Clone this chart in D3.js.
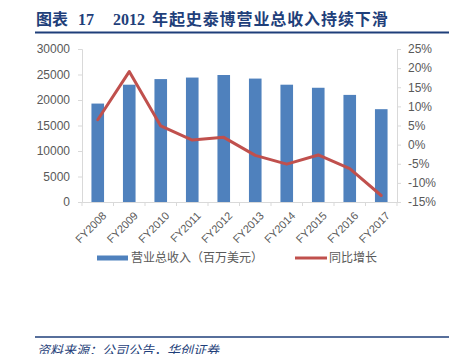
<!DOCTYPE html>
<html lang="zh">
<head>
<meta charset="UTF-8">
<title>史泰博营业总收入</title>
<script src="https://d3js.org/d3.v7.min.js"></script>
<style>
  body { margin: 0; background: #fff; }
  svg { display: block; }
</style>
</head>
<body>
<div id="chart"></div>
<script>
// data
var years = ['FY2008', 'FY2009', 'FY2010', 'FY2011', 'FY2012', 'FY2013', 'FY2014', 'FY2015', 'FY2016', 'FY2017'];
var revenue = [19300, 23000, 24100, 24400, 24900, 24200, 23000, 22400, 21000, 18200];
var growth = [6.5, 19.1, 4.9, 1.2, 1.9, -2.8, -5.1, -2.7, -6.3, -13.3];
var leftTicks = [0, 5000, 10000, 15000, 20000, 25000, 30000];
var rightTicks = [-15, -10, -5, 0, 5, 10, 15, 20, 25];
var seriesNames = ['营业总收入（百万美元）', '同比增长'];

var W = 453, H = 354;
var x0 = 82, x1 = 397, yTop = 49, yBot = 202;
var grey = '#595959', axisCol = '#d9d9d9';
var navy = '#1f3f7a';

var svg = d3.select('#chart').append('svg').attr('width', W).attr('height', H);

// title, in pieces to match the spacing
var titleParts = [
  { t: '图表', x: 36 },
  { t: '17', x: 78 },
  { t: '2012', x: 113 },
  { t: '年起史泰博营业总收入持续下滑', x: 152 }
];
svg.append('g').selectAll('text').data(titleParts).enter().append('text')
  .attr('x', function(d) { return d.x; }).attr('y', 25)
  .attr('fill', navy)
  .style('font-family', '"Liberation Serif", "Noto Sans CJK SC", serif')
  .style('font-weight', 'bold')
  .style('font-size', '16px')
  .style('letter-spacing', function(d) { return d.t.length > 4 ? '0.9px' : '0px'; })
  .text(function(d) { return d.t; });
svg.append('line').attr('x1', 35).attr('x2', 449).attr('y1', 32.5).attr('y2', 32.5)
  .attr('stroke', navy).attr('stroke-width', 2);

// scales
var x = d3.scaleBand().domain(years).range([x0, x1]).paddingInner(0.6).paddingOuter(0.3);
var xb = d3.scaleBand().domain(years).range([x0, x1]);
var yL = d3.scaleLinear().domain([0, 30000]).range([yBot, yTop]);
var yR = d3.scaleLinear().domain([-15, 25]).range([yBot, yTop]);

// left axis
var gl = svg.append('g').attr('transform', 'translate(' + x0 + ',0)')
  .call(d3.axisLeft(yL).tickValues(leftTicks).tickSize(4).tickPadding(8).tickFormat(d3.format('d')));
// right axis
var gr = svg.append('g').attr('transform', 'translate(' + x1 + ',0)')
  .call(d3.axisRight(yR).tickValues(rightTicks).tickSize(4).tickPadding(7).tickFormat(function(d) { return d + '%'; }));
// bottom axis (ticks at category boundaries)
var gb = svg.append('g').attr('transform', 'translate(0,' + yBot + ')')
  .call(d3.axisBottom(xb).tickSize(0).tickFormat(''));
gb.selectAll('.bound').data(d3.range(years.length + 1)).enter().append('line')
  .attr('x1', function(i) { return x0 + i * xb.step(); })
  .attr('x2', function(i) { return x0 + i * xb.step(); })
  .attr('y1', 0).attr('y2', 4).attr('stroke', axisCol);

[gl, gr, gb].forEach(function(g) {
  g.selectAll('.domain, .tick line').attr('stroke', axisCol);
  g.selectAll('text').attr('fill', grey)
    .style('font-family', '"Liberation Sans", Arial, sans-serif').style('font-size', '12px');
});

// x labels rotated
svg.append('g').selectAll('text').data(years).enter().append('text')
  .attr('transform', function(d) {
    return 'translate(' + (xb(d) + xb.bandwidth() / 2 + 4) + ',' + (yBot + 9) + ') rotate(-45)';
  })
  .attr('text-anchor', 'end').attr('dy', '0.7em')
  .attr('fill', grey)
  .style('font-family', '"Liberation Sans", Arial, sans-serif').style('font-size', '11px')
  .text(function(d) { return d; });

// bars
svg.append('g').selectAll('rect').data(years).enter().append('rect')
  .attr('x', function(d) { return x(d); })
  .attr('width', x.bandwidth())
  .attr('y', function(d, i) { return yL(revenue[i]); })
  .attr('height', function(d, i) { return yBot - yL(revenue[i]); })
  .attr('fill', '#4f81bd');

// growth line
var line = d3.line()
  .x(function(d, i) { return xb(years[i]) + xb.bandwidth() / 2; })
  .y(function(d) { return yR(d); });
svg.append('path').datum(growth).attr('d', line)
  .attr('fill', 'none').attr('stroke', '#c0504d').attr('stroke-width', 3)
  .attr('stroke-linejoin', 'round').attr('stroke-linecap', 'round');

// legend
var lg = svg.append('g').attr('transform', 'translate(0,258)');
lg.append('rect').attr('x', 97).attr('y', -2.5).attr('width', 31).attr('height', 5).attr('fill', '#4f81bd');
lg.append('line').attr('x1', 295).attr('x2', 327).attr('y1', 0).attr('y2', 0)
  .attr('stroke', '#c0504d').attr('stroke-width', 3);
lg.selectAll('text').data(seriesNames).enter().append('text')
  .attr('x', function(d, i) { return i === 0 ? 131 : 329; })
  .attr('y', 0).attr('dy', '0.36em')
  .attr('fill', grey)
  .style('font-family', '"Noto Sans CJK SC", sans-serif').style('font-size', '12px')
  .text(function(d) { return d; });

// footer (cut by the lower edge, as in the reference)
svg.append('line').attr('x1', 35).attr('x2', 449).attr('y1', 337).attr('y2', 337)
  .attr('stroke', navy).attr('stroke-width', 1.5);
svg.append('text').attr('x', 37).attr('y', 355)
  .attr('fill', navy)
  .style('font-family', '"Noto Sans CJK SC", sans-serif')
  .style('font-style', 'italic').style('font-size', '13px')
  .text('资料来源：公司公告，华创证券');
</script>
</body>
</html>
